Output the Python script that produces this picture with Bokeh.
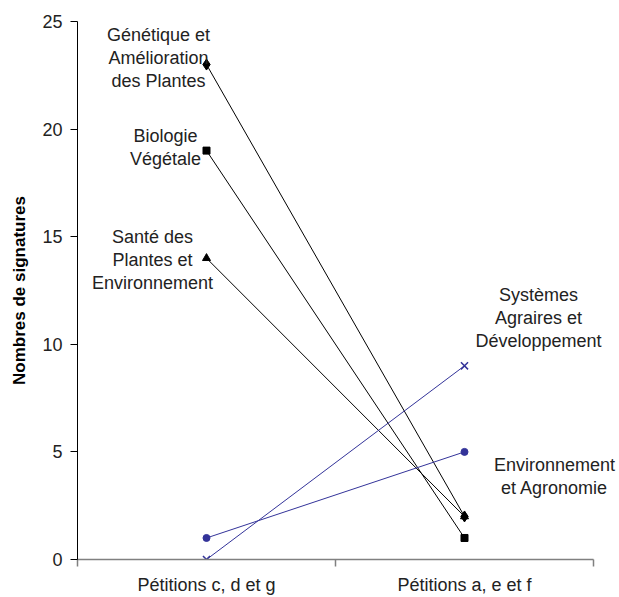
from bokeh.plotting import figure
from bokeh.models import Range1d, FixedTicker, Label
from bokeh.embed import file_html
from bokeh.resources import INLINE

# ---- data ----
categories = ["Pétitions c, d et g", "Pétitions a, e et f"]
genetique = [23, 2]
biologie = [19, 1]
sante = [14, 2]
systemes = [0, 9]
environnement = [1, 5]
series_labels = [
    "Génétique et\nAmélioration\ndes Plantes",
    "Biologie\nVégétale",
    "Santé des\nPlantes et\nEnvironnement",
    "Systèmes\nAgraires et\nDéveloppement",
    "Environnement\net Agronomie",
]
y_ticks = [0, 5, 10, 15, 20, 25]
y_title = "Nombres de signatures"

FONT = "Liberation Sans"
BLUE = "#333399"

xs = [i + 0.5 for i in range(len(categories))]
n = len(categories)

# frame runs to the right edge so that labels there are not clipped;
# the axis itself is bounded to the category span
FRAME_W, AXIS_W = 542, 516
p = figure(width=619, height=597, output_backend="svg", toolbar_location=None,
           x_range=Range1d(0, n * FRAME_W / AXIS_W), y_range=Range1d(y_ticks[0], y_ticks[-1]),
           min_border_left=77, min_border_right=0, min_border_top=21, min_border_bottom=38)
p.outline_line_color = None
p.grid.visible = False
p.background_fill_color = "white"
p.border_fill_color = "white"

series = [
    (genetique, "black", "diamond", 11),
    (biologie, "black", "square", 7),
    (sante, "black", "triangle", 8),
    (systemes, BLUE, "x", 10),
    (environnement, BLUE, "circle", 7),
]
# label anchor point index and offsets (screen px) relative to that point
label_anchor = [0, 0, 0, 1, 1]
label_dx = [-48, -41, -54, 74, 90]
label_dy = [7, 3, -2, 48, -25]

for k, (vals, col, mk, sz) in enumerate(series):
    p.line(xs, vals, line_color=col, line_width=1)
    if mk == "x":
        p.scatter(xs, vals, marker=mk, size=sz, line_color=col, line_width=1.5)
    else:
        p.scatter(xs, vals, marker=mk, size=sz, fill_color=col, line_color=col)
    a = label_anchor[k]
    p.add_layout(Label(x=xs[a], y=vals[a], x_offset=label_dx[k], y_offset=label_dy[k],
                       text=series_labels[k], text_align="center", text_baseline="middle",
                       text_font=FONT, text_font_size="18px", text_color="#222222",
                       text_line_height=1.15))

# y axis
ya = p.yaxis[0]
ya.ticker = FixedTicker(ticks=y_ticks)
ya.axis_line_color = "black"
ya.major_tick_line_color = "black"
ya.major_tick_out = 7
ya.major_tick_in = 0
ya.minor_tick_line_color = None
ya.major_label_standoff = 8
ya.major_label_text_font = FONT
ya.major_label_text_font_size = "18px"
ya.major_label_text_color = "#222222"
ya.axis_label = y_title
ya.axis_label_text_font = FONT
ya.axis_label_text_font_style = "bold"
ya.axis_label_text_font_size = "17px"
ya.axis_label_text_color = "black"
ya.axis_label_standoff = 10

# x axis
xa = p.xaxis[0]
xa.bounds = (0, n)
xa.ticker = FixedTicker(ticks=xs, minor_ticks=list(range(n + 1)))
xa.major_label_overrides = {x: c for x, c in zip(xs, categories)}
xa.axis_line_color = "#808080"
xa.axis_line_width = 1.5
xa.major_tick_line_color = None
xa.major_tick_out = 0
xa.major_tick_in = 0
xa.minor_tick_line_color = "#808080"
xa.minor_tick_line_width = 1.5
xa.minor_tick_out = 7
xa.minor_tick_in = 0
xa.major_label_standoff = 8
xa.major_label_text_font = FONT
xa.major_label_text_font_size = "18px"
xa.major_label_text_color = "#222222"

open("out.html", "w").write(file_html(p, INLINE))
